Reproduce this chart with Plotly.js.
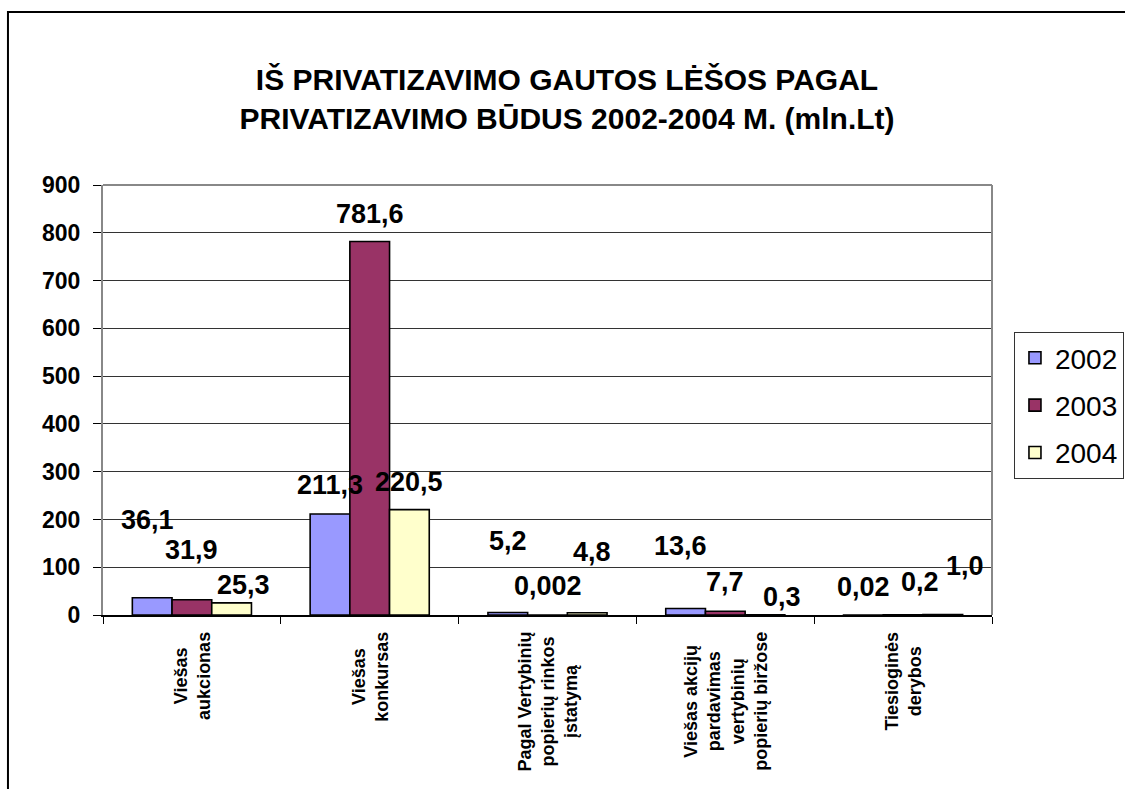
<!DOCTYPE html>
<html>
<head>
<meta charset="utf-8">
<script src="https://cdn.plot.ly/plotly-3.0.1.min.js"></script>
<style>html,body{margin:0;padding:0;background:#fff;}#chart{width:1125px;height:789px;}</style>
</head>
<body>
<div id="chart"></div>
<script>
// ---- data ----
const categories = [
  "Viešas<br>aukcionas",
  "Viešas<br>konkursas",
  "Pagal Vertybinių<br>popierių rinkos<br>įstatymą",
  "Viešas akcijų<br>pardavimas<br>vertybinių<br>popierių biržose",
  "Tiesioginės<br>derybos"
];
const years = ["2002", "2003", "2004"];
const values2002 = [36.1, 211.3, 5.2, 13.6, 0.02];
const values2003 = [31.9, 781.6, 0.002, 7.7, 0.2];
const values2004 = [25.3, 220.5, 4.8, 0.3, 1.0];
const yTicks = [0, 100, 200, 300, 400, 500, 600, 700, 800, 900];

// ---- styles ----
const colors = ["#9999FF", "#993366", "#FFFFCC"];
const series = [values2002, values2003, values2004];
// label nudges in pixels (dx, dy above bar top) – layout only
const labelNudge = [
  [[-5, 78], [0, 29], [0, 72], [-5, 63], [0, 28]],
  [[0, 50], [0, 28], [0, 29], [0, 29], [17, 33]],
  [[12, 18], [0, 28], [5, 61], [17, 18], [22, 49]]
];
const barPx = 39.7;
const FONT = "Arial, Liberation Sans, sans-serif";

function fmt(v) {
  const s = v < 0.1 ? String(v) : v.toFixed(1);
  return s.replace(".", ",");
}

const xIdx = categories.map((c, i) => i);

const traces = series.map((vals, s) => ({
  type: "bar",
  name: years[s],
  legendgroup: years[s],
  x: xIdx,
  y: vals,
  marker: { color: colors[s], line: { color: "#000", width: 1.6 } },
  hoverinfo: "y"
}));

const annotations = [];
series.forEach((vals, s) => {
  vals.forEach((v, i) => {
    annotations.push({
      x: xIdx[i], y: v, xref: "x", yref: "y",
      text: fmt(v), showarrow: false,
      xanchor: "center", yanchor: "middle",
      xshift: (s - 1) * barPx + labelNudge[s][i][0],
      yshift: labelNudge[s][i][1],
      font: { family: FONT, size: 27, color: "#000", weight: "bold" }
    });
  });
});
categories.forEach((c, i) => {
  annotations.push({
    x: xIdx[i], y: 0, xref: "x", yref: "paper",
    text: "<b>" + c + "</b>", showarrow: false,
    textangle: -90, align: "center",
    xanchor: "center", yanchor: "top", yshift: -15,
    font: { family: FONT, size: 18, color: "#000" }
  });
});

const layout = {
  width: 1125, height: 789,
  margin: { l: 103, r: 133, t: 185, b: 174 },
  paper_bgcolor: "#fff", plot_bgcolor: "#fff",
  title: {
    text: "<b>IŠ PRIVATIZAVIMO GAUTOS LĖŠOS PAGAL<br>PRIVATIZAVIMO BŪDUS 2002-2004 M. (mln.Lt)</b>",
    x: 0.504, xref: "container", xanchor: "center",
    y: 0.886, yref: "container", yanchor: "middle",
    font: { family: FONT, size: 30, color: "#000" }
  },
  barmode: "group", bargap: 0.33, bargroupgap: 0,
  showlegend: true,
  legend: {
    xref: "container", yref: "container",
    x: 0.9013, y: 0.5792, xanchor: "left", yanchor: "top",
    bgcolor: "#fff", bordercolor: "#333", borderwidth: 1,
    font: { family: FONT, size: 28, color: "#000" },
    tracegroupgap: 8, traceorder: "grouped", itemwidth: 30
  },
  xaxis: {
    type: "linear", range: [-0.5, 4.5],
    showticklabels: false, showgrid: false, zeroline: false,
    tickmode: "array", tickvals: [-0.5, 0.5, 1.5, 2.5, 3.5, 4.5],
    ticks: "outside", ticklen: 7, tickcolor: "#000", tickwidth: 1,
    showline: true, linecolor: "#000", linewidth: 2
  },
  yaxis: {
    range: [0, 900], tickmode: "array", tickvals: yTicks, ticktext: yTicks.map(String),
    ticks: "outside", ticklen: 8, tickcolor: "#000", tickwidth: 1,
    ticklabelstandoff: 8,
    tickfont: { family: FONT, size: 23, color: "#000", weight: "bold" },
    showgrid: true, gridcolor: "#333", gridwidth: 1,
    showline: true, linecolor: "#888", linewidth: 2, zeroline: false
  },
  shapes: [
    { type: "line", xref: "paper", yref: "paper", x0: 0, x1: 1, y0: 1, y1: 1, line: { color: "#888", width: 2 } },
    { type: "line", xref: "paper", yref: "paper", x0: 1, x1: 1, y0: 0, y1: 1, line: { color: "#888", width: 2 } },
    { type: "rect", xref: "paper", yref: "paper", x0: -0.1069, x1: 1.2, y0: -0.5, y1: 1.4023, line: { color: "#000", width: 2 }, fillcolor: "rgba(0,0,0,0)" }
  ],
  annotations: annotations
};

Plotly.newPlot("chart", traces, layout, { displayModeBar: false, staticPlot: true });
</script>
</body>
</html>
